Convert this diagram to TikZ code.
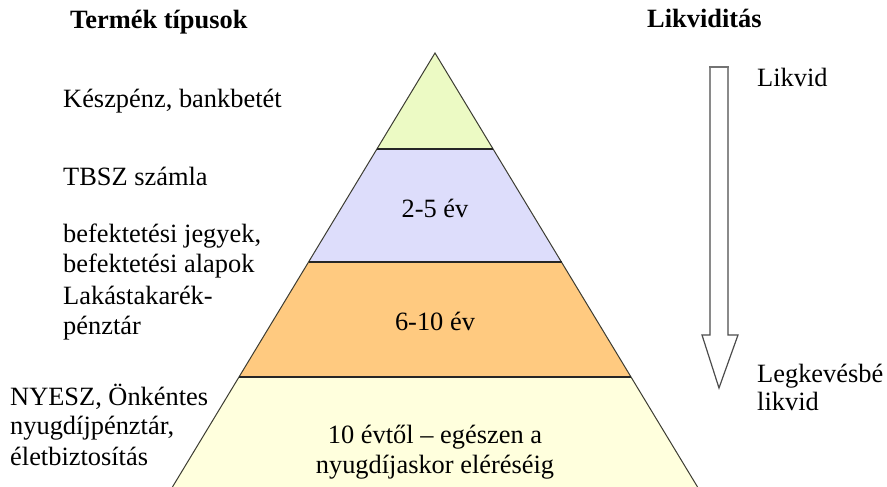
\documentclass[tikz,border=0pt]{standalone}
\usepackage{fontspec}
\setmainfont{Liberation Serif}
\definecolor{lgreen}{RGB}{236,250,196}
\definecolor{lav}{RGB}{221,221,251}
\definecolor{lorange}{RGB}{255,202,128}
\definecolor{lyellow}{RGB}{255,255,221}
\definecolor{edge}{RGB}{60,60,50}
\begin{document}
\begin{tikzpicture}[x=1pt,y=-1pt,
  txt/.style={inner sep=0pt,anchor=base west,font=\fontsize{26.4}{30}\selectfont},
  ttl/.style={inner sep=0pt,anchor=base west,font=\fontsize{26.4}{30}\selectfont\bfseries},
  ctr/.style={inner sep=0pt,anchor=base,font=\fontsize{26.4}{30}\selectfont},
  layer/.style={draw=edge,line width=1pt},
  sep/.style={draw=black!85,line width=2pt}]
\useasboundingbox (0,0) rectangle (887,487);
\fill[white] (0,0) rectangle (887,487);
\begin{scope}
\clip (0,0) rectangle (887,487);
% pyramid layers
\coordinate (apex) at (435,53);
\fill[lgreen] (apex) -- (377,149) -- (493,149) -- cycle;
\fill[lav] (377,149) -- (308.5,262) -- (561.5,262) -- (493,149) -- cycle;
\fill[lorange] (308.5,262) -- (239,377) -- (631,377) -- (561.5,262) -- cycle;
\fill[lyellow] (239,377) -- (167,496) -- (703,496) -- (631,377) -- cycle;
\draw[layer] (167,496) -- (apex) -- (703,496);
\draw[sep] (377,149) -- (493,149);
\draw[sep] (308.5,262) -- (561.5,262);
\draw[sep] (239,377) -- (631,377);
\end{scope}
% arrow
\draw[draw=black!70,line width=1.2pt,line join=miter]
  (710,67) -- (710,335) -- (702,335) -- (719,388) -- (738,335) -- (728,335) -- (728,67);
\draw[draw=black!55,line width=2.2pt] (709.4,67) -- (728.6,67);
% titles
\node[ttl] (t1) at (70,29) {Termék típusok};
\node[ttl] (t2) at (647,28) {Likviditás};
% left texts
\node[txt] (k) at (63,107) {Készpénz, bankbetét};
\node[txt] (tb) at (63,185) {TBSZ számla};
\node[txt] (bj) at (63,242) {befektetési jegyek,};
\node[txt] (ba) at (63,272) {befektetési alapok};
\node[txt] (lk) at (63,304) {Lakástakarék-};
\node[txt] (pt) at (63,334) {pénztár};
\node[txt] (ny) at (10,405) {NYESZ, Önkéntes};
\node[txt] (np) at (10,434) {nyugdíjpénztár,};
\node[txt] (eb) at (10,465) {életbiztosítás};
% pyramid texts
\node[ctr] (l2) at (435,217) {2-5 év};
\node[ctr] (l3) at (435,330) {6-10 év};
\node[ctr] (l4a) at (435,443) {10 évtől – egészen a};
\node[ctr] (l4b) at (435,473) {nyugdíjaskor eléréséig};
% right texts
\node[txt] (lv) at (757,87) {Likvid};
\node[txt] (lg) at (757,382) {Legkevésbé};
\node[txt] (lgl) at (757,410) {likvid};
\end{tikzpicture}
\end{document}
